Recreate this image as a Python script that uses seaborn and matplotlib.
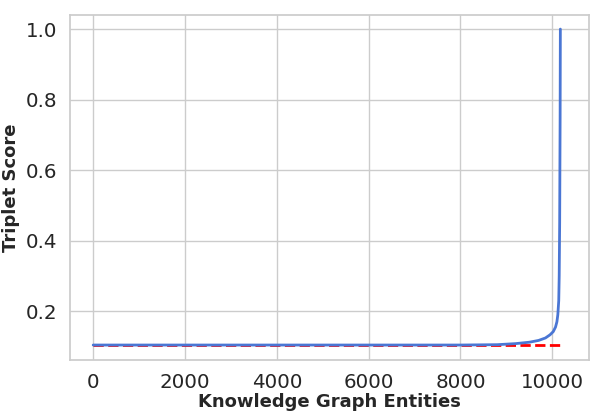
import matplotlib
matplotlib.use("Agg")
import matplotlib.pyplot as plt
import seaborn as sns
import pandas as pd

entity_idx = [0, 2000, 4000, 6000, 8000, 8800, 9200, 9500, 9700, 9850, 9950, 10020, 10070, 10100, 10120, 10140, 10150, 10160, 10170, 10175]
triplet_score = [0.104, 0.104, 0.104, 0.104, 0.104, 0.105, 0.108, 0.112, 0.117, 0.124, 0.133, 0.142, 0.155, 0.17, 0.19, 0.23, 0.30, 0.45, 0.75, 1.0]
baseline_x = [0, 10180]
baseline_y = [0.104, 0.104]

sns.set_theme(style="whitegrid", font_scale=1.3)
fig, ax = plt.subplots(figsize=(5.95, 4.16), dpi=100)
ax.plot(baseline_x, baseline_y, color="red", linestyle="--", linewidth=2)
sns.lineplot(x=entity_idx, y=triplet_score, ax=ax, color="#4a76d4", linewidth=2)
ax.set_xlabel("Knowledge Graph Entities", fontweight="bold", fontsize=13, labelpad=1)
ax.set_ylabel("Triplet Score", fontweight="bold", fontsize=13)
ax.set_xlim(-500, 10800)
ax.set_ylim(0.062, 1.04)
ax.set_xticks([0, 2000, 4000, 6000, 8000, 10000])
ax.set_yticks([0.2, 0.4, 0.6, 0.8, 1.0])
fig.subplots_adjust(left=0.118, right=0.99, top=0.964, bottom=0.135)
fig.savefig("out.png")
